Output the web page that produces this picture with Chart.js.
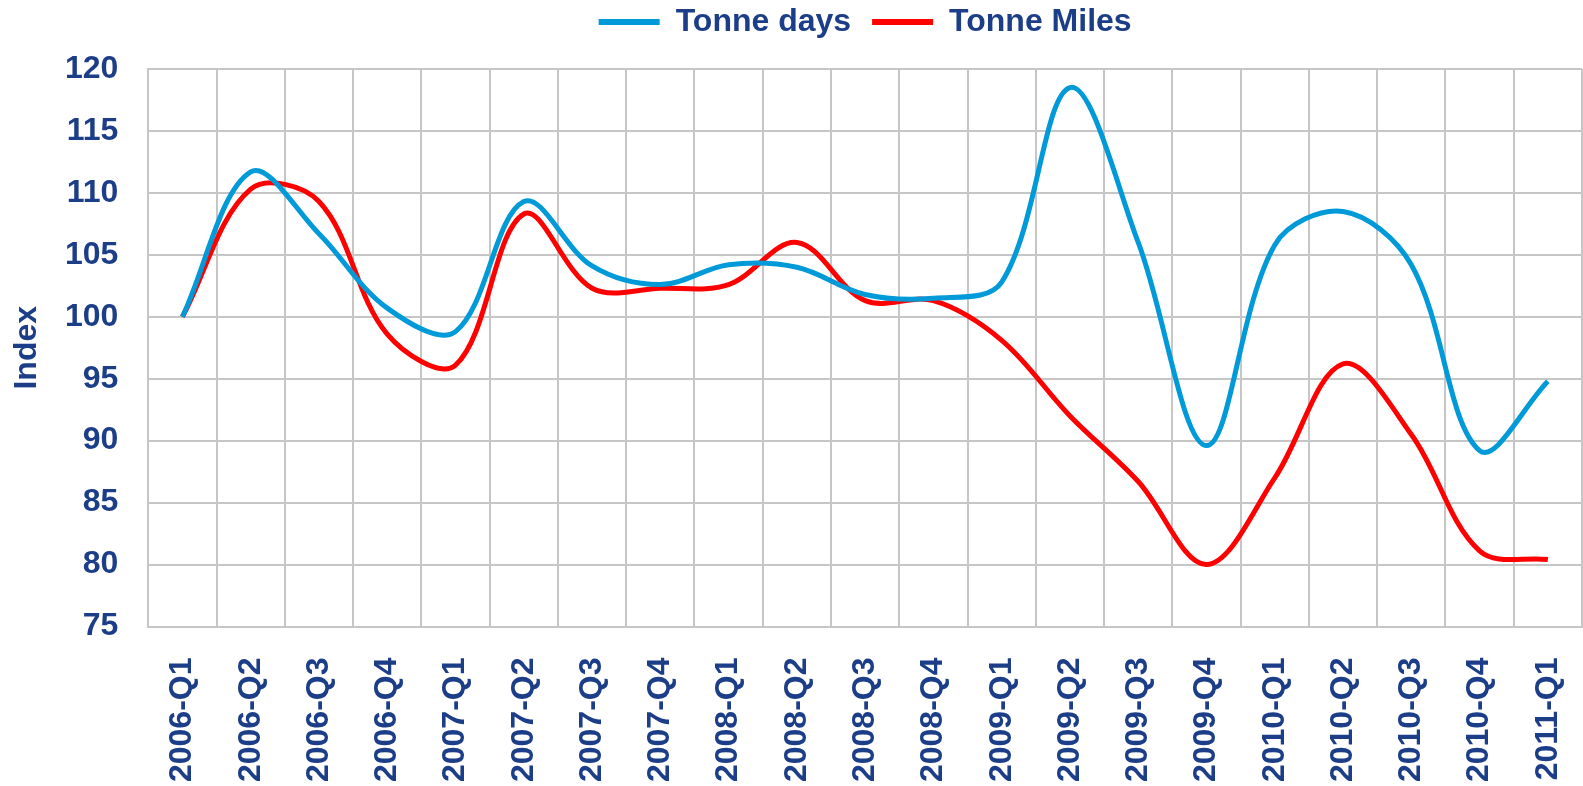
<!DOCTYPE html>
<html>
<head>
<meta charset="utf-8">
<title>Tonne days / Tonne Miles</title>
<script src="https://cdn.jsdelivr.net/npm/chart.js@4.4.1/dist/chart.umd.min.js"></script>
<style>
    body{ margin:0; background:#fff; }
    #holder{ width:1583px; height:786px; }
</style>
</head>
<body>
<div id="holder"><canvas id="chart" width="1583" height="786"></canvas></div>
<script>
const quarters = ['2006-Q1','2006-Q2','2006-Q3','2006-Q4','2007-Q1','2007-Q2','2007-Q3','2007-Q4',
    '2008-Q1','2008-Q2','2008-Q3','2008-Q4','2009-Q1','2009-Q2','2009-Q3','2009-Q4',
    '2010-Q1','2010-Q2','2010-Q3','2010-Q4','2011-Q1'];
const tonneDays = [100, 111.7, 106.7, 100.7, 98.8, 109.3, 104.1, 102.6, 104.2, 104.0, 101.8,
    101.5, 102.8, 118.5, 106.0, 89.6, 105.8, 108.5, 104.2, 89.2, 94.8];
const tonneMiles = [100, 110.3, 109.3, 98.6, 96.1, 108.3, 102.3, 102.3, 102.6, 106.0, 101.3,
    101.3, 98.1, 92.0, 86.7, 80.0, 87.0, 96.2, 90.5, 81.1, 80.4];
const yMin = 75, yMax = 120, yStep = 5;

const navy = '#1C3D87';
const gridGray = '#C6C6C6';
const boldFont = { family: "'Liberation Sans', Arial, sans-serif", size: 32, weight: 'bold' };

// extra room under the legend so the plot starts lower
const legendGap = {
    id: 'legendGap',
    beforeInit(chart){
        const fit = chart.legend.fit;
        chart.legend.fit = function(){
            fit.bind(chart.legend)();
            this.height += 21;
        }
    }
};

new Chart(document.getElementById('chart'), {
    type: 'line',
    data: {
        labels: quarters,
        datasets: [
            { label: 'Tonne days', data: tonneDays, borderColor: '#009AD8', backgroundColor: '#009AD8',
              borderWidth: 5, pointRadius: 0, tension: 0.35 },
            { label: 'Tonne Miles', data: tonneMiles, borderColor: '#FF0000', backgroundColor: '#FF0000',
              borderWidth: 5, pointRadius: 0, tension: 0.35 }
        ]
    },
    options: {
        responsive: false,
        animation: false,
        layout: { padding: { top: -15, right: 1, bottom: 0, left: 0 } },
        plugins: {
            tooltip: { enabled: false },
            legend: {
                position: 'top',
                fullSize: false,
                labels: {
                    font: boldFont,
                    color: navy,
                    boxWidth: 61,
                    boxHeight: 6,
                    padding: 21,
                    generateLabels: chart => chart.data.datasets.map((ds, i) => ({
                        text: ds.label,
                        fillStyle: ds.borderColor,
                        strokeStyle: ds.borderColor,
                        lineWidth: 0,
                        hidden: false,
                        datasetIndex: i,
                        fontColor: navy
                    }))
                }
            }
        },
        scales: {
            x: {
                type: 'category',
                offset: true,
                grid: { offset: true, color: gridGray, lineWidth: 2, drawTicks: false },
                border: { color: gridGray, width: 2 },
                ticks: {
                    autoSkip: false,
                    minRotation: 90,
                    maxRotation: 90,
                    padding: 31,
                    color: navy,
                    font: boldFont
                },
                afterFit(scale){
                    scale.height = 159.5;
                    scale.paddingLeft = 0;
                    scale.paddingRight = 0;
                }
            },
            y: {
                min: yMin,
                max: yMax,
                grid: { color: gridGray, lineWidth: 2, drawTicks: false },
                border: { color: gridGray, width: 2 },
                ticks: { stepSize: yStep, padding: 30, color: navy, font: boldFont },
                title: {
                    display: true,
                    text: 'Index',
                    color: navy,
                    font: boldFont,
                    padding: { top: 8, bottom: 0 }
                },
                afterFit(scale){ scale.width = 148.3; }
            }
        }
    },
    plugins: [legendGap]
});
</script>
</body>
</html>
